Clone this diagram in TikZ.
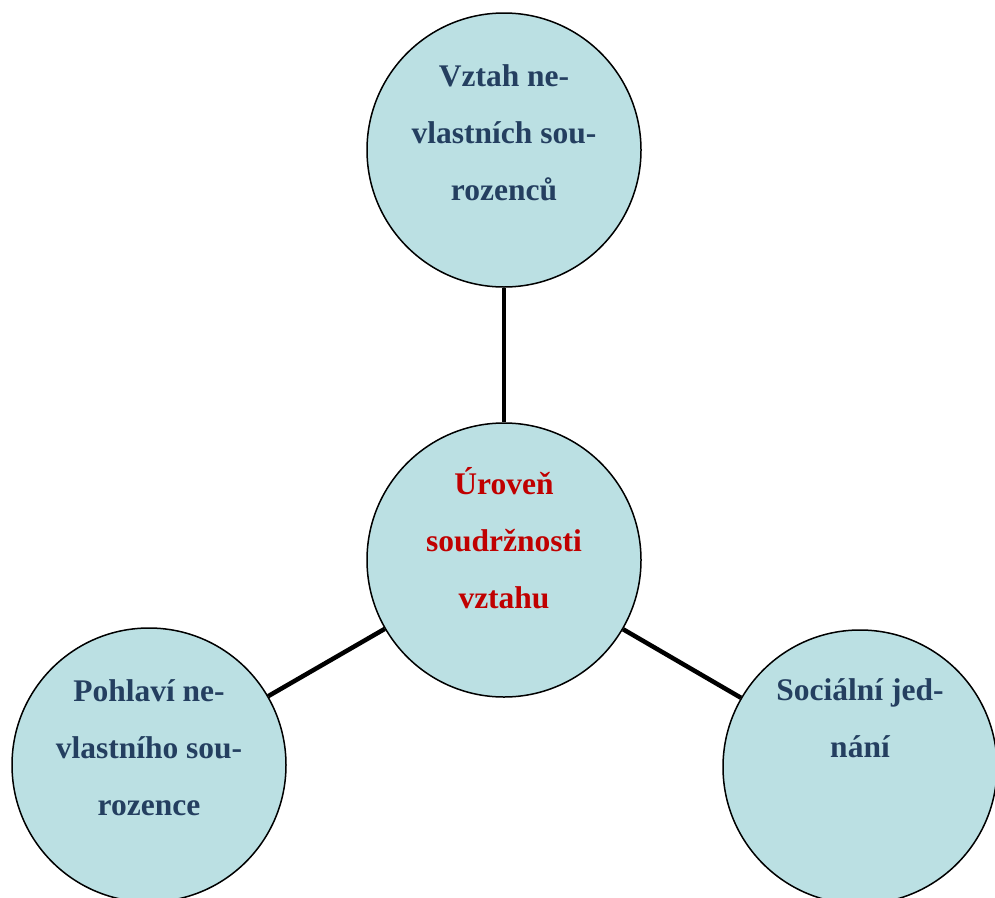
\documentclass[tikz,border=0pt]{standalone}
\usepackage{fontspec}
\setmainfont{Liberation Serif}
\usepackage[x11names, rgb]{xcolor}
\usepackage{tikz}
\usetikzlibrary{positioning}
\definecolor{bubblefill}{RGB}{187,224,227}
\definecolor{darktext}{RGB}{36,63,96}
\definecolor{redtext}{RGB}{192,0,0}
\tikzset{
bubble/.style={circle, draw, line width=1.5pt, fill=bubblefill, minimum size=274pt, inner sep=0pt}, % the four circles
caption/.style={anchor=base, align=center, inner sep=0pt, text=darktext,
  font=\fontsize{31.5}{57}\selectfont\bfseries}, % text set from the top of a circle (base = last line)
link/.style={line width=4.5pt} % thick connectors between the circles
}

\begin{document}
\begin{tikzpicture}[x=1pt,y=-1pt]
    \useasboundingbox (0,0) rectangle (995,897);
    \node[bubble] (sourozenci) at (504,150) {};
    \node[bubble] (soudrznost) at (504,560) {};
    \node[bubble] (pohlavi) at (149,765) {};
    \node[bubble] (jednani) at (860,767) {};
    \draw[link] (sourozenci) -- (soudrznost);
    \draw[link] (soudrznost) -- (pohlavi);
    \draw[link] (soudrznost) -- (jednani);
    \node[caption] (sourozencitext) at ([yshift=-50pt]sourozenci.center) {Vztah ne-\\vlastních sou-\\rozenců};
    \node[caption, text=redtext] (soudrznosttext) at ([yshift=-48pt]soudrznost.center) {Úroveň\\soudržnosti\\vztahu};
    \node[caption] (pohlavitext) at ([yshift=-50pt]pohlavi.center) {Pohlaví ne-\\vlastního sou-\\rozence};
    \node[caption] (jednanitext) at ([yshift=10pt]jednani.center) {Sociální jed-\\nání};
\end{tikzpicture}
\end{document}
